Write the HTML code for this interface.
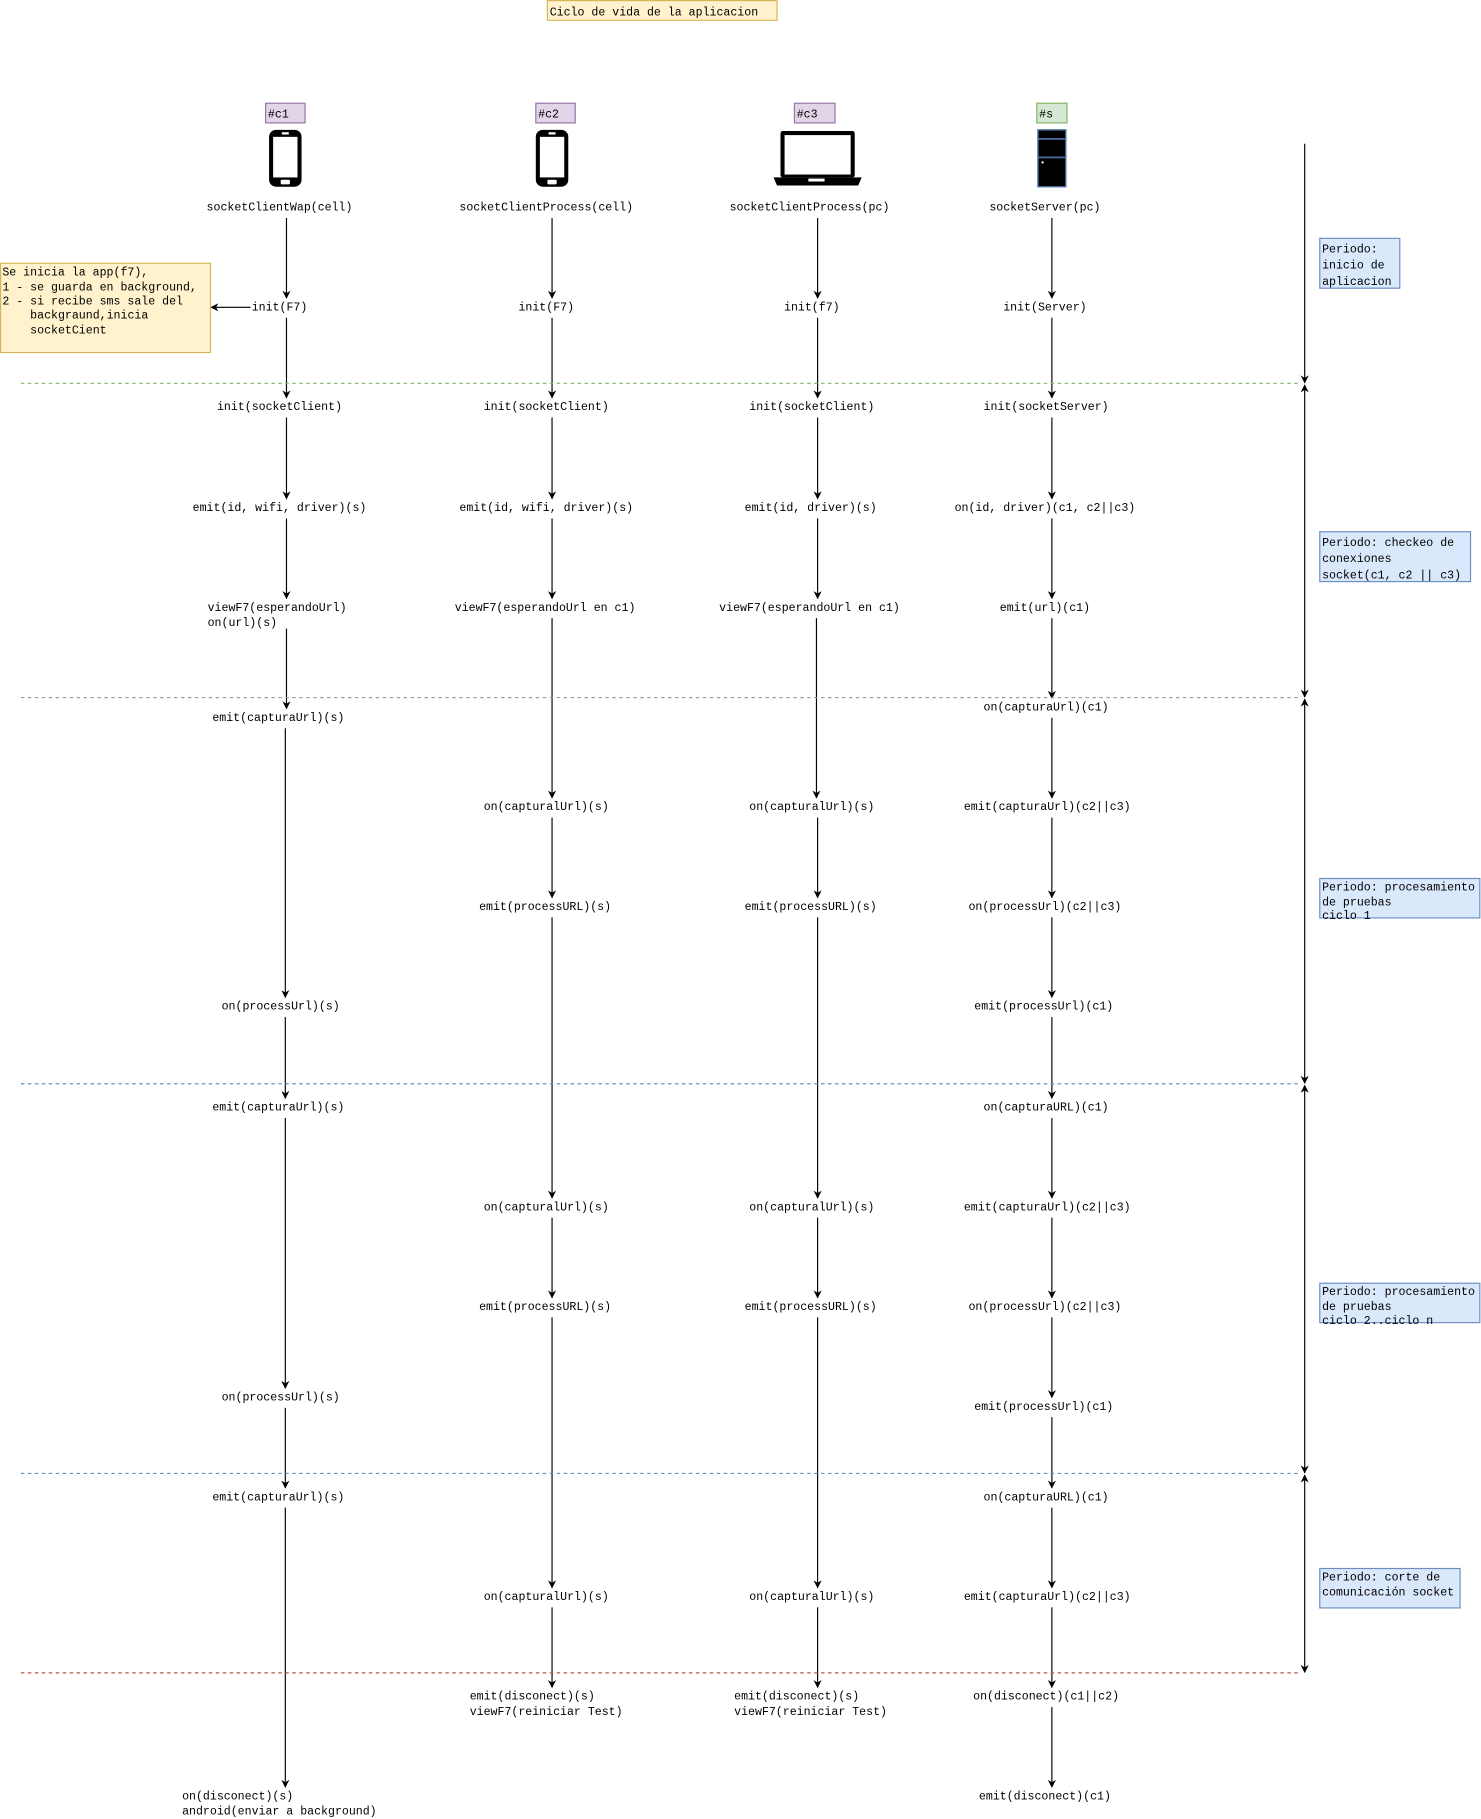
<!DOCTYPE html>
<html><head><meta charset="utf-8"><style>
html,body{margin:0;padding:0;background:#fff}
svg{display:block}
text{font-family:"Liberation Mono",monospace;font-size:10px;fill:#000;transform:translateY(1.5px)}
</style></head><body>
<svg width="1481" height="1819" viewBox="0 0 1277 1568.5" xmlns="http://www.w3.org/2000/svg">
<defs>
<marker id="a" viewBox="0 0 10 10" refX="9" refY="5" markerWidth="7" markerHeight="7" orient="auto-start-reverse" markerUnits="userSpaceOnUse"><path d="M0,0 L10,5 L0,10 L3,5 z" fill="#000"/></marker>
</defs>
<rect width="1277" height="1568.5" fill="#fff"/>
<rect x="472" y="0.5" width="198" height="17" fill="#fff2cc" stroke="#d6b656"/>
<text x="474" y="12">Ciclo de vida de la aplicacion</text>
<rect x="229" y="89" width="34" height="17" fill="#e1d5e7" stroke="#9673a6"/><text x="231" y="100">#c1</text>
<rect x="462" y="89" width="34" height="17" fill="#e1d5e7" stroke="#9673a6"/><text x="464" y="100">#c2</text>
<rect x="685" y="89" width="35" height="17" fill="#e1d5e7" stroke="#9673a6"/><text x="687" y="100">#c3</text>
<rect x="894" y="89" width="26" height="17" fill="#d5e8d4" stroke="#82b366"/><text x="896" y="100">#s</text>
<g>
<rect x="232" y="112" width="28" height="49" rx="6" fill="#000"/><rect x="235.5" y="118" width="21" height="35" fill="#fff"/><rect x="243" y="114" width="6" height="2" fill="#fff"/><rect x="242" y="155" width="8" height="4" rx="1" fill="#fff"/>
<rect x="462" y="112" width="28" height="49" rx="6" fill="#000"/><rect x="465.5" y="118" width="21" height="35" fill="#fff"/><rect x="473" y="114" width="6" height="2" fill="#fff"/><rect x="472" y="155" width="8" height="4" rx="1" fill="#fff"/>
<rect x="673" y="113" width="64" height="40" rx="2" fill="#000"/><rect x="676.5" y="116.5" width="57" height="34" fill="#fff"/><path d="M667,153 L743,153 L740,160 L670,160 z" fill="#000"/><rect x="697" y="154" width="14" height="2.5" fill="#fff"/>
<rect x="895" y="112" width="24" height="49" fill="#000" stroke="#4a6da0" stroke-width="1.2"/><rect x="895" y="119" width="24" height="1.5" fill="#4a6da0"/><rect x="895" y="135" width="24" height="1.5" fill="#4a6da0"/><circle cx="899" cy="140" r="1" fill="#fff"/>
</g>
<g text-anchor="middle" dominant-baseline="central">
<text x="241" y="178">socketClientWap(cell)</text>
<text x="471" y="178">socketClientProcess(cell)</text>
<text x="698" y="178">socketClientProcess(pc)</text>
<text x="901" y="178">socketServer(pc)</text>
<text x="241" y="264">init(F7)</text>
<text x="471" y="264">init(F7)</text>
<text x="700" y="264">init(f7)</text>
<text x="901" y="264">init(Server)</text>
<text x="241" y="350">init(socketClient)</text>
<text x="471" y="350">init(socketClient)</text>
<text x="700" y="350">init(socketClient)</text>
<text x="902" y="350">init(socketServer)</text>
<text x="241" y="437">emit(id, wifi, driver)(s)</text>
<text x="471" y="437">emit(id, wifi, driver)(s)</text>
<text x="699" y="437">emit(id, driver)(s)</text>
<text x="901" y="437">on(id, driver)(c1, c2||c3)</text>
<text x="470" y="523">viewF7(esperandoUrl en c1)</text>
<text x="698" y="523">viewF7(esperandoUrl en c1)</text>
<text x="901" y="523">emit(url)(c1)</text>
<text x="240" y="618">emit(capturaUrl)(s)</text>
<text x="902" y="609">on(capturaUrl)(c1)</text>
<text x="471" y="695">on(capturalUrl)(s)</text>
<text x="700" y="695">on(capturalUrl)(s)</text>
<text x="903" y="695">emit(capturaUrl)(c2||c3)</text>
<text x="470" y="781">emit(processURL)(s)</text>
<text x="699" y="781">emit(processURL)(s)</text>
<text x="901" y="781">on(processUrl)(c2||c3)</text>
<text x="242" y="867">on(processUrl)(s)</text>
<text x="900" y="867">emit(processUrl)(c1)</text>
<text x="240" y="954">emit(capturaUrl)(s)</text>
<text x="902" y="954">on(capturaURL)(c1)</text>
<text x="471" y="1040">on(capturalUrl)(s)</text>
<text x="700" y="1040">on(capturalUrl)(s)</text>
<text x="903" y="1040">emit(capturaUrl)(c2||c3)</text>
<text x="470" y="1126">emit(processURL)(s)</text>
<text x="699" y="1126">emit(processURL)(s)</text>
<text x="901" y="1126">on(processUrl)(c2||c3)</text>
<text x="242" y="1204">on(processUrl)(s)</text>
<text x="900" y="1212">emit(processUrl)(c1)</text>
<text x="240" y="1290">emit(capturaUrl)(s)</text>
<text x="902" y="1290">on(capturaURL)(c1)</text>
<text x="471" y="1376">on(capturalUrl)(s)</text>
<text x="700" y="1376">on(capturalUrl)(s)</text>
<text x="903" y="1376">emit(capturaUrl)(c2||c3)</text>
<text x="902" y="1462">on(disconect)(c1||c2)</text>
<text x="901" y="1548">emit(disconect)(c1)</text>
</g>
<g dominant-baseline="central">
<text x="179" y="523">viewF7(esperandoUrl)</text>
<text x="179" y="536">on(url)(s)</text>
<text x="405" y="1462">emit(disconect)(s)</text>
<text x="405" y="1475">viewF7(reiniciar Test)</text>
<text x="633" y="1462">emit(disconect)(s)</text>
<text x="633" y="1475">viewF7(reiniciar Test)</text>
<text x="157" y="1548">on(disconect)(s)</text>
<text x="157" y="1561">android(enviar a background)</text>
</g>
<g stroke="#000" stroke-width="1" marker-end="url(#a)">
<line x1="247" y1="188" x2="247" y2="257"/>
<line x1="247" y1="274" x2="247" y2="343"/>
<line x1="247" y1="360" x2="247" y2="430"/>
<line x1="247" y1="447" x2="247" y2="516"/>
<line x1="247" y1="542" x2="247" y2="611"/>
<line x1="246" y1="628" x2="246" y2="860"/>
<line x1="246" y1="877" x2="246" y2="947"/>
<line x1="246" y1="964" x2="246" y2="1197"/>
<line x1="246" y1="1214" x2="246" y2="1283"/>
<line x1="246" y1="1300" x2="246" y2="1541"/>
<line x1="476" y1="188" x2="476" y2="257"/>
<line x1="476" y1="274" x2="476" y2="343"/>
<line x1="476" y1="360" x2="476" y2="430"/>
<line x1="476" y1="447" x2="476" y2="516"/>
<line x1="476" y1="533" x2="476" y2="688"/>
<line x1="476" y1="705" x2="476" y2="774"/>
<line x1="476" y1="791" x2="476" y2="1033"/>
<line x1="476" y1="1050" x2="476" y2="1119"/>
<line x1="476" y1="1136" x2="476" y2="1369"/>
<line x1="476" y1="1386" x2="476" y2="1455"/>
<line x1="705" y1="188" x2="705" y2="257"/>
<line x1="705" y1="274" x2="705" y2="343"/>
<line x1="705" y1="360" x2="705" y2="430"/>
<line x1="705" y1="447" x2="705" y2="516"/>
<line x1="704" y1="533" x2="704" y2="688"/>
<line x1="705" y1="705" x2="705" y2="774"/>
<line x1="705" y1="791" x2="705" y2="1033"/>
<line x1="705" y1="1050" x2="705" y2="1119"/>
<line x1="705" y1="1136" x2="705" y2="1369"/>
<line x1="705" y1="1386" x2="705" y2="1455"/>
<line x1="907" y1="188" x2="907" y2="257"/>
<line x1="907" y1="274" x2="907" y2="343"/>
<line x1="907" y1="360" x2="907" y2="430"/>
<line x1="907" y1="447" x2="907" y2="516"/>
<line x1="907" y1="533" x2="907" y2="602"/>
<line x1="907" y1="619" x2="907" y2="688"/>
<line x1="907" y1="705" x2="907" y2="774"/>
<line x1="907" y1="791" x2="907" y2="860"/>
<line x1="907" y1="877" x2="907" y2="947"/>
<line x1="907" y1="964" x2="907" y2="1033"/>
<line x1="907" y1="1050" x2="907" y2="1119"/>
<line x1="907" y1="1136" x2="907" y2="1205"/>
<line x1="907" y1="1222" x2="907" y2="1283"/>
<line x1="907" y1="1300" x2="907" y2="1369"/>
<line x1="907" y1="1386" x2="907" y2="1455"/>
<line x1="907" y1="1472" x2="907" y2="1541"/>
<line x1="216" y1="265" x2="182" y2="265"/>
<line x1="1125" y1="124" x2="1125" y2="330"/>
<line x1="1125" y1="332" x2="1125" y2="601" marker-start="url(#a)"/>
<line x1="1125" y1="603" x2="1125" y2="934" marker-start="url(#a)"/>
<line x1="1125" y1="936" x2="1125" y2="1270" marker-start="url(#a)"/>
<line x1="1125" y1="1272" x2="1125" y2="1442" marker-start="url(#a)"/>
</g>
<g stroke-dasharray="3,3" stroke-width="1">
<line x1="18" y1="330.5" x2="1120" y2="330.5" stroke="#82b366"/>
<line x1="18" y1="601.5" x2="1120" y2="601.5" stroke="#999"/>
<line x1="18" y1="934.5" x2="1120" y2="934.5" stroke="#6c8ebf"/>
<line x1="18" y1="1270.5" x2="1120" y2="1270.5" stroke="#6c8ebf"/>
<line x1="18" y1="1442.5" x2="1120" y2="1442.5" stroke="#b85450"/>
</g>
<rect x="0.5" y="227" width="181" height="77" fill="#fff2cc" stroke="#d6b656"/>
<g dominant-baseline="central">
<text x="2" y="234">Se inicia la app(f7),</text>
<text x="2" y="247">1 - se guarda en background,</text>
<text x="2" y="259">2 - si recibe sms sale del</text>
<text x="26" y="271">backgraund,inicia</text>
<text x="26" y="284">socketCient</text>
</g>
<rect x="1138" y="205.5" width="69" height="43" fill="#dae8fc" stroke="#6c8ebf"/>
<rect x="1138" y="458.5" width="130" height="43" fill="#dae8fc" stroke="#6c8ebf"/>
<rect x="1138" y="757.5" width="138" height="34" fill="#dae8fc" stroke="#6c8ebf"/>
<rect x="1138" y="1106.5" width="138" height="34" fill="#dae8fc" stroke="#6c8ebf"/>
<rect x="1138" y="1352.5" width="121" height="34" fill="#dae8fc" stroke="#6c8ebf"/>
<g dominant-baseline="central">
<text x="1140" y="214">Periodo:</text>
<text x="1140" y="228">inicio de</text>
<text x="1140" y="242">aplicacion</text>
<text x="1140" y="467">Periodo: checkeo de</text>
<text x="1140" y="481">conexiones</text>
<text x="1140" y="495">socket(c1, c2 || c3)</text>
<text x="1140" y="764">Periodo: procesamiento</text>
<text x="1140" y="777">de pruebas</text>
<text x="1140" y="789">ciclo 1</text>
<text x="1140" y="1113">Periodo: procesamiento</text>
<text x="1140" y="1126">de pruebas</text>
<text x="1140" y="1138">ciclo 2..ciclo n</text>
<text x="1140" y="1359">Periodo: corte de</text>
<text x="1140" y="1372">comunicación socket</text>
</g>
</svg>
</body></html>
